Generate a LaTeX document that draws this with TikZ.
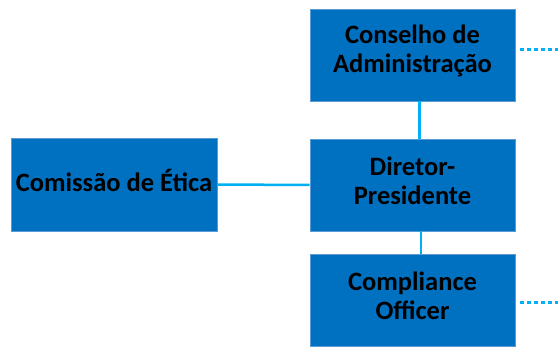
\documentclass[tikz,border=0pt]{standalone}
\usepackage{fontspec}
\setmainfont{Carlito}
\definecolor{boxblue}{HTML}{0070C0}
\definecolor{boxedge}{HTML}{5B9BD5}
\definecolor{linkblue}{HTML}{00B0F0}
\begin{document}
\begin{tikzpicture}[x=1pt,y=-1pt,
  orgbox/.style={rectangle, fill=boxblue, draw=boxedge, line width=0.8pt,
    minimum width=205pt, minimum height=92pt, inner sep=0pt},
  boxtext/.style={align=center, yshift=4pt, text=black,
    font=\fontsize{26.5}{29}\selectfont\bfseries},
  link/.style={draw=linkblue, line width=2.5pt},
  dotlink/.style={draw=linkblue, line width=3pt, dash pattern=on 4pt off 3pt}]
\useasboundingbox (0,0) rectangle (558,347);
\node[orgbox, label={[boxtext]center:Conselho de\\Administração}] (conselho) at (412.5,55) {};
\node[orgbox, label={[boxtext]center:Diretor-\\Presidente}] (diretor) at (412.5,185) {};
\node[orgbox, label={[boxtext]center:Compliance\\Officer}] (compliance) at (412.5,300) {};
\node[orgbox, minimum width=206pt, minimum height=93pt, label={[boxtext]center:Comissão de Ética}] (comissao) at (114,184.5) {};
\coordinate (e1) at (558,50);
\coordinate (e2) at (558,303);
\draw[link] ([xshift=7pt]conselho.south) -- ([xshift=7pt]diretor.north);
\draw[link] ([xshift=8.5pt]diretor.south) -- ([xshift=8.5pt]compliance.north);
\draw[link] (comissao.east) -- (diretor.west);
\draw[dotlink] ([xshift=5pt]conselho.east |- e1) -- (e1);
\draw[dotlink] ([xshift=5pt]compliance.east |- e2) -- (e2);
\end{tikzpicture}
\end{document}
